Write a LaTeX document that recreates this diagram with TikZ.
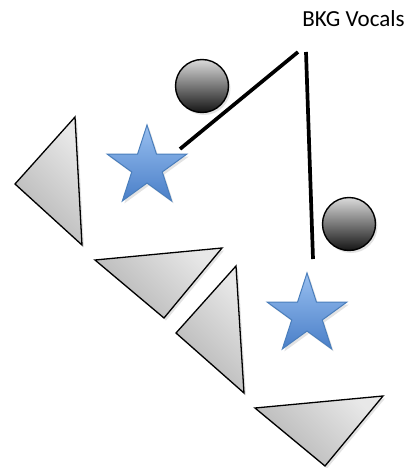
\documentclass[tikz,border=0pt]{standalone}
\usepackage{fontspec}
\setmainfont{Carlito}
\usetikzlibrary{shapes.geometric,shadows}
\definecolor{cTriHi}{HTML}{E8E8E8}
\definecolor{cTriLo}{HTML}{B4B4B4}
\definecolor{cBallHi}{HTML}{DADADA}
\definecolor{cBallLo}{HTML}{151515}
\definecolor{cStarHi}{HTML}{98BFF0}
\definecolor{cStarLo}{HTML}{4A7FC8}
\definecolor{cStarEdge}{HTML}{4A7EBB}
\tikzset{
  shdw/.style={drop shadow={opacity=.22,shadow xshift=2pt,shadow yshift=-2.5pt}},
  wedge/.style ={draw=black,line width=1.3pt,top color=cTriHi,bottom color=cTriLo,shading angle=-45,shdw},
  ball/.style  ={circle,draw=black,line width=1.4pt,minimum size=53pt,inner sep=0pt,
                 top color=cBallHi,bottom color=cBallLo,shdw},
  singer/.style={star,star points=5,star point ratio=2.618,minimum size=84pt,inner sep=0pt,
                 draw=cStarEdge,line width=1pt,top color=cStarHi,bottom color=cStarLo,shdw},
  boom/.style  ={line width=3.7pt,black},
}

\begin{document}
\begin{tikzpicture}[x=1pt,y=-1pt]
\useasboundingbox (0,0) rectangle (415,468);
% risers
\draw[wedge] (15,184) -- (75,117) -- (82,245) -- cycle;
\draw[wedge] (95,260) -- (222,248) -- (164,318) -- cycle;
\draw[wedge] (176,333) -- (236,266) -- (244,393) -- cycle;
\draw[wedge] (255,408) -- (383,396) -- (325,466) -- cycle;
% singers and monitors
\node[ball]   (monA) at (202,86)  {};
\node[ball]   (monB) at (349,224) {};
\node[singer] (vocA) at (147,167) {};
\node[singer] (vocB) at (307,315) {};
% mic booms
\coordinate (boomL) at (298,52);
\coordinate (boomR) at (306,52);
\coordinate (tipA)  at (180,149);
\coordinate (tipB)  at (313,259);
\draw[boom] (boomL) -- (tipA);
\draw[boom] (boomR) -- (tipB);
\node[font=\fontsize{23}{27}\selectfont,anchor=base] (bkg) at (353.5,26.7) {BKG Vocals};
\end{tikzpicture}
\end{document}
